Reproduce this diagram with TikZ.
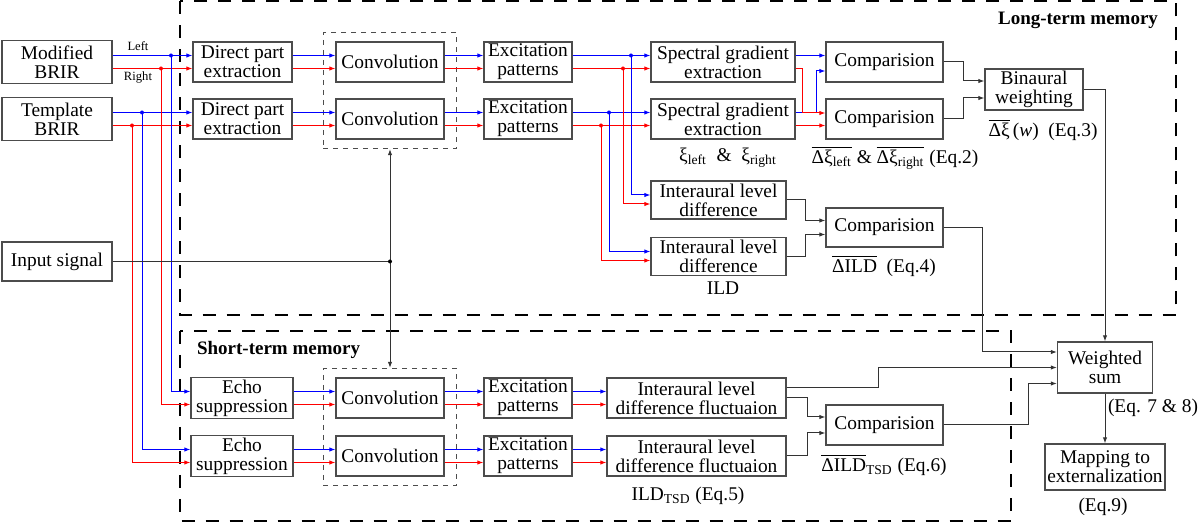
\documentclass[tikz,border=0pt]{standalone}
\usepackage{fontspec}
\setmainfont{Liberation Serif}
\usepackage{amsmath}
\usetikzlibrary{arrows.meta,fit,positioning}

\begin{document}
\begin{tikzpicture}[x=0.5pt,y=-0.5pt,
                    box/.style={draw=black!70, line width=0.6pt, align=center, inner sep=1pt,
                                font=\fontsize{9.7}{9.6}\selectfont},
                    grp/.style={draw=black!70, line width=0.5pt, dash pattern=on 2.5pt off 2.5pt,
                                inner xsep=6pt, inner ysep=4.5pt},
                    memline/.style={line width=1pt, dash pattern=on 6.5pt off 5.5pt},
                    bwire/.style={blue, line width=0.5pt, -{Latex[length=3pt,width=2.2pt]}},
                    rwire/.style={red, line width=0.5pt, -{Latex[length=3pt,width=2.2pt]}},
                    kwire/.style={black!80, line width=0.5pt, -{Latex[length=3pt,width=2.2pt]}},
                    kline/.style={black!80, line width=0.5pt},
                    lbl/.style={font=\fontsize{9.7}{11}\selectfont},
                    tinylbl/.style={font=\fontsize{6.3}{7}\selectfont},
                    title/.style={font=\bfseries\fontsize{9.5}{11}\selectfont}
                    ]
    \useasboundingbox (0,0) rectangle (1200,523);

    % memory frames
    \draw[memline] (180,1.5) rectangle (1176,315);
    \draw[memline] (180,331) rectangle (1011,521.5);
    \node[title, anchor=east] (ltm) at (1165,20) {Long-term memory};
    \node[title, anchor=west] (stm) at (190,350) {Short-term memory};

    % inputs
    \node[box, minimum width=55pt, minimum height=21.5pt] (modbrir) at (57,62) {Modified\\BRIR};
    \node[box, minimum width=55pt, minimum height=21.5pt] (tmpbrir) at (57,119) {Template\\BRIR};
    \node[box, minimum width=55pt, minimum height=19.5pt] (insig) at (57,261.5) {Input signal};

    % long-term chain
    \node[box, minimum width=49.5pt, minimum height=20pt] (dpe1) at (242.5,62) {Direct part\\extraction};
    \node[box, minimum width=49.5pt, minimum height=20pt] (dpe2) at (242.5,119) {Direct part\\extraction};
    \node[box, minimum width=54pt, minimum height=20pt] (conv1) at (390,62) {Convolution};
    \node[box, minimum width=54pt, minimum height=20pt] (conv2) at (390,119) {Convolution};
    \node[box, minimum width=44pt, minimum height=20pt] (exc1) at (528,62) {Excitation\\patterns};
    \node[box, minimum width=44pt, minimum height=20pt] (exc2) at (528,119) {Excitation\\patterns};
    \node[box, minimum width=72pt, minimum height=20pt] (spec1) at (723,62) {Spectral gradient\\extraction};
    \node[box, minimum width=72pt, minimum height=20pt] (spec2) at (723,119) {Spectral gradient\\extraction};
    \node[box, minimum width=58.5pt, minimum height=20pt] (cmp1) at (884.5,62) {Comparision};
    \node[box, minimum width=58.5pt, minimum height=20pt] (cmp2) at (884.5,119) {Comparision};
    \node[box, minimum width=49pt, minimum height=19.5pt] (bin) at (1034,89.5) {Binaural\\weighting};
    \node[box, minimum width=67.5pt, minimum height=19pt] (ild1) at (718.5,200) {Interaural level\\difference};
    \node[box, minimum width=67.5pt, minimum height=19pt] (ild2) at (718.5,256.5) {Interaural level\\difference};
    \node[box, minimum width=58.5pt, minimum height=19.5pt] (cmp3) at (884.5,227.5) {Comparision};

    % short-term chain
    \node[box, minimum width=51pt, minimum height=20pt] (echo1) at (242,398) {Echo\\suppression};
    \node[box, minimum width=51pt, minimum height=20pt] (echo2) at (242,456) {Echo\\suppression};
    \node[box, minimum width=54pt, minimum height=20pt] (conv3) at (390,398) {Convolution};
    \node[box, minimum width=54pt, minimum height=20pt] (conv4) at (390,456) {Convolution};
    \node[box, minimum width=44pt, minimum height=20pt] (exc3) at (528,398) {Excitation\\patterns};
    \node[box, minimum width=44pt, minimum height=20pt] (exc4) at (528,456) {Excitation\\patterns};
    \node[box, minimum width=89.5pt, minimum height=20pt] (ildf1) at (696.5,398) {Interaural level\\difference fluctuaion};
    \node[box, minimum width=89.5pt, minimum height=20pt] (ildf2) at (696.5,456) {Interaural level\\difference fluctuaion};
    \node[box, minimum width=58.5pt, minimum height=20pt] (cmp4) at (884.5,425) {Comparision};

    % output
    \node[box, minimum width=47.5pt, minimum height=25.5pt] (ws) at (1105,367.5) {Weighted\\sum};
    \node[box, minimum width=60pt, minimum height=23pt] (map) at (1105,467) {Mapping to\\externalization};

    % convolution groups
    \node[grp, fit=(conv1)(conv2)] (grp1) {};
    \node[grp, fit=(conv3)(conv4)] (grp2) {};

    % junctions
    \coordinate (jmb) at (171,55.5);
    \coordinate (jmr) at (161,68.5);
    \coordinate (jtb) at (142,112.5);
    \coordinate (jtr) at (132,125.5);
    \coordinate (jeb1) at (631,55.5);
    \coordinate (jer1) at (623,68.5);
    \coordinate (jeb2) at (609,112.5);
    \coordinate (jer2) at (601,125.5);
    \coordinate (jin) at (390,261.5);

    % left / right pairs
    \foreach \a/\b in {modbrir/dpe1, tmpbrir/dpe2, dpe1/conv1, dpe2/conv2, conv1/exc1, conv2/exc2,
                       exc1/spec1, exc2/spec2, echo1/conv3, echo2/conv4, conv3/exc3, conv4/exc4,
                       exc3/ildf1, exc4/ildf2} {
        \draw[bwire] ([yshift=3.25pt]\a.east) -- ([yshift=3.25pt]\b.west);
        \draw[rwire] ([yshift=-3.25pt]\a.east) -- ([yshift=-3.25pt]\b.west);
    }
    \node[tinylbl] (leftlbl) at (138,46) {Left};
    \node[tinylbl] (rightlbl) at (138,77) {Right};

    % branches to short-term memory
    \draw[bwire] (jmb) |- ([yshift=3.25pt]echo1.west);
    \draw[rwire] (jmr) |- ([yshift=-3.25pt]echo1.west);
    \draw[bwire] (jtb) |- ([yshift=3.25pt]echo2.west);
    \draw[rwire] (jtr) |- ([yshift=-3.25pt]echo2.west);

    % branches to ILD
    \draw[bwire] (jeb1) |- ([yshift=2.5pt]ild1.west);
    \draw[rwire] (jer1) |- ([yshift=-2pt]ild1.west);
    \draw[bwire] (jeb2) |- ([yshift=2.5pt]ild2.west);
    \draw[rwire] (jer2) |- ([yshift=-2pt]ild2.west);

    \foreach \j in {jmb,jtb,jeb1,jeb2} \fill[blue] (\j) circle (1pt);
    \foreach \j in {jmr,jtr,jer1,jer2} \fill[red] (\j) circle (1pt);

    % spectral gradient comparisons
    \draw[bwire] ([yshift=3.25pt]spec1.east) -- ([yshift=3.25pt]cmp1.west);
    \draw[bwire] ([yshift=3.25pt]spec2.east) -- ++(21,0) |- ([yshift=-4.5pt]cmp1.west);
    \draw[rwire] ([yshift=-3.25pt]spec1.east) -- ++(7,0) |- ([yshift=3pt]cmp2.west);
    \draw[rwire] ([yshift=-3.25pt]spec2.east) -- ([yshift=-3.25pt]cmp2.west);
    \draw[kwire] (cmp1.east) -- ++(20,0) |- ([yshift=4.25pt]bin.west);
    \draw[kwire] (cmp2.east) -- ++(20,0) |- ([yshift=-4.25pt]bin.west);
    \draw[kwire] (bin.east) -| (ws.north);

    % ILD comparison
    \draw[kwire] (ild1.east) -- ++(19,0) |- ([yshift=3.5pt]cmp3.west);
    \draw[kwire] (ild2.east) -- ++(19,0) |- ([yshift=-3.5pt]cmp3.west);
    \draw[kwire] (cmp3.east) -- ++(39,0) |- ([yshift=7.75pt]ws.west);

    % ILD fluctuation
    \draw[kwire] ([yshift=5pt]ildf1.east) -- ++(92,0) |- (ws.west);
    \draw[kwire] (ildf1.east) -- ++(21,0) |- ([yshift=4pt]cmp4.west);
    \draw[kwire] (ildf2.east) -- ++(21,0) |- ([yshift=-4pt]cmp4.west);
    \draw[kwire] (cmp4.east) -- ++(85,0) |- ([yshift=-8pt]ws.west);
    \draw[kwire] (ws.south) -- (map.north);

    % input signal
    \draw[kline] (insig.east) -- (jin);
    \draw[kwire] (jin) -- (grp1.south);
    \draw[kwire] (jin) -- (grp2.north);
    \fill[black] (jin) circle (1pt);

    % labels
    \node[lbl] (xilbl) at (728,158) {ξ\textsubscript{left}\ \ \&\ \ ξ\textsubscript{right}};
    \node[lbl] (dxilbl) at (895,158) {$\overline{\text{Δξ\textsubscript{left}}}$ \& $\overline{\text{Δξ\textsubscript{right}}}$ (Eq.2)};
    \node[lbl] (binlbl) at (1043,130) {$\overline{\text{Δξ}}$\,(\textit{w})\ \ (Eq.3)};
    \node[lbl] (ildlbl) at (723,288) {ILD};
    \node[lbl] (dildlbl) at (884,266) {$\overline{\text{ΔILD}}$\ \ (Eq.4)};
    \node[lbl] (tsdlbl) at (688,496) {ILD\textsubscript{TSD} (Eq.5)};
    \node[lbl] (dtsdlbl) at (884,465) {$\overline{\text{ΔILD}}$\textsubscript{TSD} (Eq.6)};
    \node[lbl] (wslbl) at (1153,408) {(Eq. 7 \& 8)};
    \node[lbl] (maplbl) at (1103,507) {(Eq.9)};
\end{tikzpicture}
\end{document}
